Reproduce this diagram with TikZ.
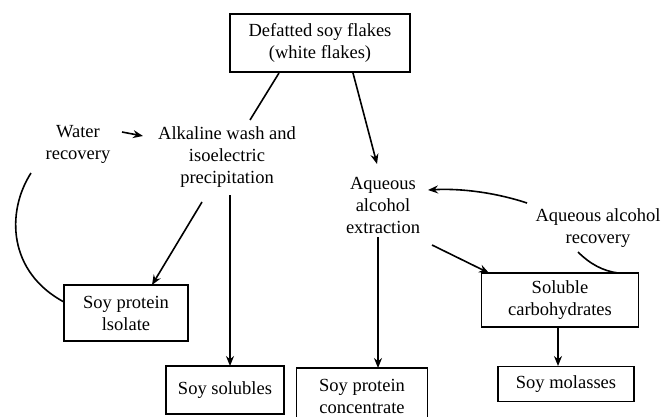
\documentclass[tikz,border=0pt]{standalone}
\usepackage{fontspec}
\setmainfont{Liberation Serif}
\usetikzlibrary{arrows.meta}
\begin{document}
\begin{tikzpicture}[x=1pt,y=-1pt,
  every node/.style={font=\fontsize{18.5}{22}\selectfont, align=center, inner sep=0pt},
  boxnode/.style={draw, line width=1.5pt, rectangle},
  conn/.style={line width=1.6pt},
  arr/.style={conn, -{Stealth[length=10pt,width=8pt]}}]
\useasboundingbox (0,0) rectangle (663,417);
% boxes
\node[boxnode, minimum width=180pt, minimum height=58pt] (top) at (320,43) {Defatted soy flakes\\(white flakes)};
\node[boxnode, minimum width=124pt, minimum height=56pt] (iso) at (126,313) {Soy protein\\lsolate};
\node[boxnode, minimum width=118pt, minimum height=48pt] (sol) at (225,390) {Soy solubles};
\node[boxnode, minimum width=131pt, minimum height=56pt] (conc) at (362,396) {Soy protein\\concentrate};
\node[boxnode, minimum width=157pt, minimum height=54pt] (carb) at (560,300) {Soluble\\carbohydrates};
\node[boxnode, minimum width=136pt, minimum height=35pt] (mol) at (566,384) {Soy molasses};
% plain texts
\node (water) at (78,144) {Water\\recovery};
\node (alk) at (227,157) {Alkaline wash and\\isoelectric\\precipitation};
\node (ext) at (383,205) {Aqueous\\alcohol\\extraction};
\node (rec) at (598,228) {Aqueous alcohol\\recovery};
% connector end points
\coordinate (t1) at (279,73);
\coordinate (a1) at (250,120);
\coordinate (t2) at (353,73);
\coordinate (e1) at (377,164);
\coordinate (w1) at (122,132);
\coordinate (a2) at (143,136);
\coordinate (a3) at (202,202);
\coordinate (i1) at (152,285);
\coordinate (a4) at (230,195);
\coordinate (s1) at (230,366);
\coordinate (e2) at (378,237);
\coordinate (c1) at (378,368);
\coordinate (r1) at (527,203);
\coordinate (e3) at (428,190);
\coordinate (e4) at (432,245);
\coordinate (k1) at (489,273);
\coordinate (r2) at (578,252);
\coordinate (k2) at (618,273);
\coordinate (k3) at (558,327);
\coordinate (m1) at (558,366);
\coordinate (w2) at (31,173);
\coordinate (i2) at (64,302);
% connectors
\draw[conn] (t1) -- (a1);
\draw[arr] (t2) -- (e1);
\draw[arr] (w1) -- (a2);
\draw[arr] (a3) -- (i1);
\draw[arr] (a4) -- (s1);
\draw[arr] (e2) -- (c1);
\draw[arr] (r1) .. controls (500,194) and (465,188) .. (e3);
\draw[arr] (e4) -- (k1);
\draw[conn] (r2) .. controls (590,264) and (603,271) .. (k2);
\draw[arr] (k3) -- (m1);
\draw[conn] (w2) .. controls (6,212) and (8,272) .. (i2);
\end{tikzpicture}
\end{document}
